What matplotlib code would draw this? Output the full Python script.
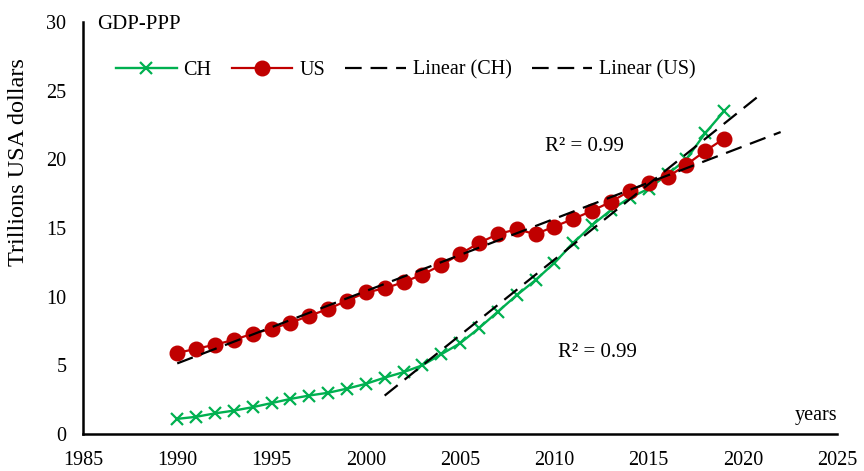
import numpy as np
import matplotlib
matplotlib.use("Agg")
import matplotlib.pyplot as plt

plt.rcParams['font.family'] = ['Liberation Serif', 'DejaVu Serif']

# GDP (PPP), trillions of US dollars
years = np.arange(1990, 2020)
ch_gdp = [1.1, 1.25, 1.5, 1.7, 1.95, 2.25, 2.55, 2.8, 3.0, 3.3,
          3.65, 4.1, 4.5, 5.0, 5.8, 6.6, 7.7, 8.9, 10.1, 11.2,
          12.45, 13.9, 15.2, 16.3, 17.2, 17.85, 18.9, 20.0, 21.9, 23.5]
us_gdp = [5.9, 6.2, 6.5, 6.85, 7.3, 7.65, 8.1, 8.6, 9.1, 9.7,
          10.3, 10.6, 11.05, 11.6, 12.3, 13.1, 13.9, 14.55, 14.9, 14.55,
          15.1, 15.65, 16.25, 16.9, 17.7, 18.3, 18.7, 19.6, 20.6, 21.5]

# trend fits: China from 2001 on, US over the whole period
ch_fit_start = 2001
ch_fit_end = 2021
us_fit_end = 2022

green = '#00B050'
red = '#C00000'


def linear_trend(x, y, x_end):
    x = np.asarray(x, dtype=float)
    y = np.asarray(y, dtype=float)
    k, b = np.polyfit(x, y, 1)
    pred = k * x + b
    r2 = 1 - np.sum((y - pred) ** 2) / np.sum((y - y.mean()) ** 2)
    xs = np.array([x[0], x_end])
    return xs, k * xs + b, r2


mask = years >= ch_fit_start
ch_x, ch_y, ch_r2 = linear_trend(years[mask], np.array(ch_gdp)[mask], ch_fit_end)
us_x, us_y, us_r2 = linear_trend(years, us_gdp, us_fit_end)

fig = plt.figure(figsize=(8.64, 4.71), dpi=100)
ax = fig.add_axes([0.096, 0.0786, 0.873, 0.875])

ax.plot(years, ch_gdp, color=green, lw=1.7, marker='x', ms=8.5, mew=1.6, label='CH', zorder=3)
ax.plot(years, us_gdp, color=red, lw=1.6, marker='o', ms=10.5, label='US', zorder=3)
ax.plot(ch_x, ch_y, color='black', lw=1.6, ls=(0, (7.5, 4)), label='Linear (CH)', zorder=4)
ax.plot(us_x, us_y, color='black', lw=1.6, ls=(0, (7.5, 4)), label='Linear (US)', zorder=4)

ax.set_xlim(1985, 2025)
ax.set_ylim(0, 30)
ax.set_xticks(range(1985, 2026, 5))
ax.set_yticks(range(0, 31, 5))
ax.tick_params(axis='both', length=0, labelsize=14.5)
ax.tick_params(axis='x', pad=12)
ax.tick_params(axis='y', pad=12)

for side in ['top', 'right']:
    ax.spines[side].set_visible(False)
for side in ['left', 'bottom']:
    ax.spines[side].set_linewidth(1.8)

ax.set_ylabel('Trillions USA dollars', fontsize=17.5)
ax.yaxis.set_label_coords(-0.071, 0.66)

ax.text(0.019, 0.993, 'GDP-PPP', transform=ax.transAxes, fontsize=15,
        ha='left', va='center')
ax.text(1.0, 0.046, 'years', transform=ax.transAxes, fontsize=14.5,
        ha='right', va='center')

ax.text(2011.6, 20.9, 'R\u00b2 = %.2f' % us_r2, fontsize=15, ha='center', va='center')
ax.text(2012.3, 5.9, 'R\u00b2 = %.2f' % ch_r2, fontsize=15, ha='center', va='center')

ax.legend(loc='center left', bbox_to_anchor=(0.02, 0.883), ncol=4, frameon=False,
          fontsize=14.5, handlelength=3.0, columnspacing=1.0, handletextpad=0.35)

fig.savefig('out.png', dpi=100)
